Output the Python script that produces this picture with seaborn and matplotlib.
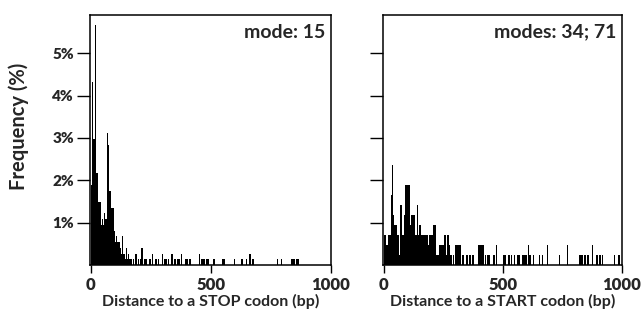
import numpy as np
import pandas as pd
import matplotlib
matplotlib.use("Agg")
import matplotlib.pyplot as plt
import seaborn as sns

# histogram values: bin start (bp), number of genes in the 5 bp bin
BIN_WIDTH = 5

stop_bin = [0, 5, 10, 15, 20, 25, 30, 35, 40, 45, 50, 55, 60, 65, 70, 75, 80, 85, 90,
            95, 100, 105, 110, 115, 120, 125, 130, 135, 140, 145, 150, 155, 160,
            165, 175, 185, 195, 205, 210, 220, 225, 230, 240, 245, 255, 265, 270,
            280, 295, 305, 310, 320, 335, 345, 350, 360, 365, 375, 390, 395, 400,
            410, 450, 460, 465, 470, 480, 485, 510, 545, 550, 555, 595, 625, 630,
            645, 660, 670, 675, 775, 790, 835, 840, 845, 855, 860]
stop_count = [14, 32, 22, 42, 16, 16, 11, 11, 7, 8, 7, 9, 8, 23, 21, 13, 13, 10, 10,
              6, 4, 5, 4, 4, 3, 2, 5, 2, 1, 3, 1, 2, 1,
              1, 1, 2, 1, 1, 3, 1, 1, 1, 1, 1, 2, 1, 1,
              1, 2, 1, 1, 1, 2, 1, 1, 1, 1, 2, 1, 1, 1,
              1, 2, 1, 1, 1, 1, 1, 1, 1, 1, 1, 1, 1, 1,
              1, 2, 1, 1, 1, 1, 1, 1, 1, 1, 1]
stop_total = 740

start_bin = [0, 5, 10, 15, 20, 25, 30, 35, 40, 45, 50, 55, 60, 65, 70, 75, 80, 85, 90,
             95, 100, 105, 110, 115, 120, 125, 130, 135, 140, 145, 150, 155, 160, 165,
             170, 175, 180, 185, 190, 195, 200, 205, 210, 215, 220, 225, 230, 235,
             240, 245, 250, 255, 260, 265, 270, 275, 280, 290, 300, 305, 310, 315,
             320, 330, 345, 350, 360, 370, 375, 395, 400, 405, 410, 415, 425, 435,
             440, 460, 470, 500, 505, 510, 520, 525, 535, 545, 560, 565, 580, 585,
             590, 595, 605, 610, 615, 625, 650, 665, 685, 735, 770, 820, 825, 830,
             840, 845, 855, 875, 890, 895, 905, 915, 965, 985]
start_count = [3, 3, 2, 2, 3, 3, 7, 10, 5, 4, 4, 3, 3, 1, 6, 3, 3, 5, 8,
               8, 8, 8, 4, 5, 5, 5, 3, 3, 6, 3, 4, 3, 3, 3,
               3, 3, 3, 2, 3, 3, 3, 4, 4, 4, 1, 1, 2, 2,
               2, 2, 2, 3, 1, 3, 3, 2, 1, 1, 2, 2, 2, 2,
               2, 1, 1, 1, 1, 1, 1, 2, 2, 2, 2, 2, 1, 1,
               1, 1, 2, 1, 1, 1, 1, 1, 1, 1, 1, 1, 1, 1,
               1, 1, 2, 1, 1, 1, 1, 1, 2, 1, 2, 1, 1, 1,
               1, 1, 1, 2, 1, 1, 1, 1, 1, 1]
start_total = 425

y_ticks = [1, 2, 3, 4, 5]
y_labels = ["1%", "2%", "3%", "4%", "5%"]
x_ticks = [0, 500, 1000]
x_labels = ["0", "500", "1000"]

sns.set_theme(style="ticks")
plt.rcParams['font.family'] = ['Lato', 'DejaVu Sans']
plt.rcParams['font.weight'] = 'bold'

fig = plt.figure(figsize=(6.44, 3.21), dpi=100)
ax1 = fig.add_axes([90 / 644, 1 - 265 / 321, 241 / 644, 250 / 321])
ax2 = fig.add_axes([383 / 644, 1 - 265 / 321, 239 / 644, 250 / 321])

panels = [
    (ax1, stop_bin, stop_count, stop_total, "Distance to a STOP codon (bp)", "mode: 15", -4),
    (ax2, start_bin, start_count, start_total, "Distance to a START codon (bp)", "modes: 34; 71", -3),
]

for ax, bins, counts, total, xlabel, note, x0 in panels:
    df = pd.DataFrame({"dist": np.array(bins) + BIN_WIDTH / 2,
                       "pct": 100 * np.array(counts) / total})
    sns.histplot(data=df, x="dist", weights="pct", binwidth=BIN_WIDTH, binrange=(0, 1000),
                 ax=ax, color="black", alpha=1, linewidth=0)
    ax.set_xlim(x0, 1000)
    ax.set_ylim(0, 5.9)
    ax.set_xticks(x_ticks)
    ax.set_xticklabels(x_labels, fontsize=12, fontweight='heavy')
    ax.set_yticks(y_ticks)
    ax.set_xlabel(xlabel, fontsize=11.5, fontweight='bold', labelpad=0)
    ax.set_ylabel("")
    for s in ax.spines.values():
        s.set_visible(True)
        s.set_linewidth(1.1)
        s.set_color("black")
    ax.tick_params(axis='y', direction='out', length=9.5, width=1.0, color='black', pad=2)
    ax.tick_params(axis='x', direction='out', length=6, width=1.0, color='black', pad=3)
    ax.text(0.975, 0.965, note, transform=ax.transAxes, ha='right', va='top',
            fontsize=14, fontweight='bold')

ax1.set_yticklabels(y_labels, fontsize=11, fontweight='heavy')
ax2.set_yticklabels([])
ax1.set_ylabel("Frequency (%)", fontsize=14.5, fontweight='bold')
ax1.yaxis.set_label_coords(-0.255, 0.556)

fig.savefig("out.png", dpi=100)
